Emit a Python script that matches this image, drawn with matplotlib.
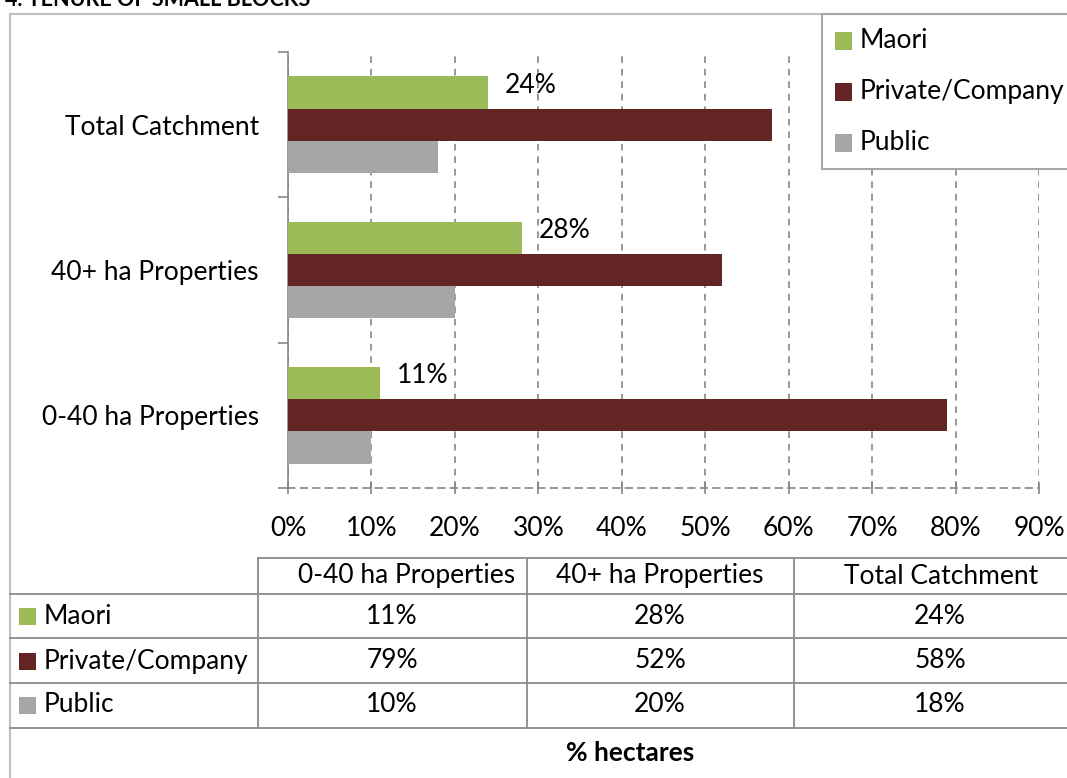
import numpy as np
import matplotlib
matplotlib.use("Agg")
import matplotlib.pyplot as plt
from matplotlib.lines import Line2D
from matplotlib.patches import Rectangle

# data
categories = ["0-40 ha Properties", "40+ ha Properties", "Total Catchment"]
series = ["Maori", "Private/Company", "Public"]
maori = [0.11, 0.28, 0.24]
private = [0.79, 0.52, 0.58]
public = [0.10, 0.20, 0.18]
colors = ["#9BBB59", "#632523", "#A6A6A6"]
x_ticks = [0.0, 0.1, 0.2, 0.3, 0.4, 0.5, 0.6, 0.7, 0.8, 0.9]
title = "4. TENURE OF SMALL BLOCKS"
table_caption = "% hectares"

W, H = 1067, 778
FONT = "Lato"
FS = 19
GRID = "#868686"
plt.rcParams["font.family"] = [FONT, "DejaVu Sans"]


def fx(x):
    return x / W


def fy(y):
    return 1 - y / H


def hline(fig, x0, x1, y, color, lw=1.3):
    fig.add_artist(Line2D([fx(x0), fx(x1)], [fy(y), fy(y)], color=color, lw=lw))


def vline(fig, x, y0, y1, color, lw=1.3):
    fig.add_artist(Line2D([fx(x), fx(x)], [fy(y0), fy(y1)], color=color, lw=lw))


fig = plt.figure(figsize=(W / 100, H / 100), dpi=100, facecolor="white")

# outer frame + title (cut at top like the source)
hline(fig, 9.5, W + 5, 14, "#BFBFBF", 1.5)
vline(fig, 9.5, 14, H + 5, "#BFBFBF", 1.5)
fig.text(fx(5), fy(6), title, fontsize=15.5, fontweight="bold", va="baseline", ha="left")

# bar chart
ax = fig.add_axes([fx(288), fy(488), (1039 - 288) / W, (488 - 52) / H])
ypos = np.arange(len(categories))
h = 0.222
vals = [maori, private, public]
for i, (name, v, c) in enumerate(zip(series, vals, colors)):
    ax.barh(ypos + (1 - i) * h, v, height=h, color=c, label=name, zorder=3)

for y, v in zip(ypos, maori):
    ax.text(v + 0.02, y + h + 0.05, f"{v:.0%}", fontsize=FS, va="center", ha="left")

ax.set_xlim(0, 0.9)
ax.set_ylim(-0.5, 2.5)
ax.set_xticks(x_ticks)
ax.set_xticklabels([f"{t:.0%}" for t in x_ticks], fontsize=FS)
ax.tick_params(axis="x", direction="inout", length=9, color=GRID, width=1.2, pad=16)
ax.xaxis.grid(True, color=GRID, lw=1.2, linestyle=(0, (4, 3.5)), zorder=0)

ax.set_yticks([-0.5, 0.5, 1.5, 2.5])
ax.set_yticklabels([])
ax.set_yticks(ypos, minor=True)
ax.set_yticklabels(categories, minor=True, fontsize=FS)
ax.tick_params(axis="y", which="major", direction="out", length=7, color=GRID, width=1.2)
ax.tick_params(axis="y", which="minor", length=0, pad=21)

for s in ["top", "right"]:
    ax.spines[s].set_visible(False)
ax.spines["left"].set_color(GRID)
ax.spines["left"].set_linewidth(1.2)
ax.spines["bottom"].set_color(GRID)
ax.spines["bottom"].set_linewidth(1.2)
ax.spines["bottom"].set_linestyle((0, (4, 3.5)))

# legend (box runs past the right edge like the source)
fig.add_artist(Rectangle((fx(822), fy(169)), (1120 - 822) / W, (169 - 14) / H,
                         facecolor="white", edgecolor="#A6A6A6", lw=1.5, zorder=5))
for i, (name, c) in enumerate(zip(series, colors)):
    yc = 41 + i * 51
    fig.add_artist(Rectangle((fx(835), fy(yc + 8.5)), 17 / W, 17 / H, facecolor=c,
                             edgecolor="none", zorder=6))
    fig.text(fx(860), fy(yc), name, fontsize=FS, va="center", ha="left", zorder=7)

# data table
TC = "#8C8C8C"
col_x = [258, 527, 794]
col_c = [392, 660, 940]
head_c = [407, 660, 941]
hline(fig, 258, W + 5, 558, TC)
for y in [594, 638, 683, 728]:
    hline(fig, 9.5, W + 5, y, TC)
for x in col_x:
    vline(fig, x, 558, 728, TC)

for cx, cat in zip(head_c, categories):
    fig.text(fx(cx), fy(576), cat, fontsize=FS, ha="center", va="center")

row_y = [616, 661, 705]
for ry, name, v, c in zip(row_y, series, vals, colors):
    fig.add_artist(Rectangle((fx(19), fy(ry + 8.5)), 17 / W, 17 / H, facecolor=c,
                             edgecolor="none"))
    fig.text(fx(44), fy(ry), name, fontsize=FS, ha="left", va="center")
    for cx, val in zip(col_c, v):
        fig.text(fx(cx), fy(ry), f"{val:.0%}", fontsize=FS, ha="center", va="center")

fig.text(fx(630), fy(753), table_caption, fontsize=FS, fontweight="bold",
         ha="center", va="center")

fig.savefig("out.png", dpi=100)
